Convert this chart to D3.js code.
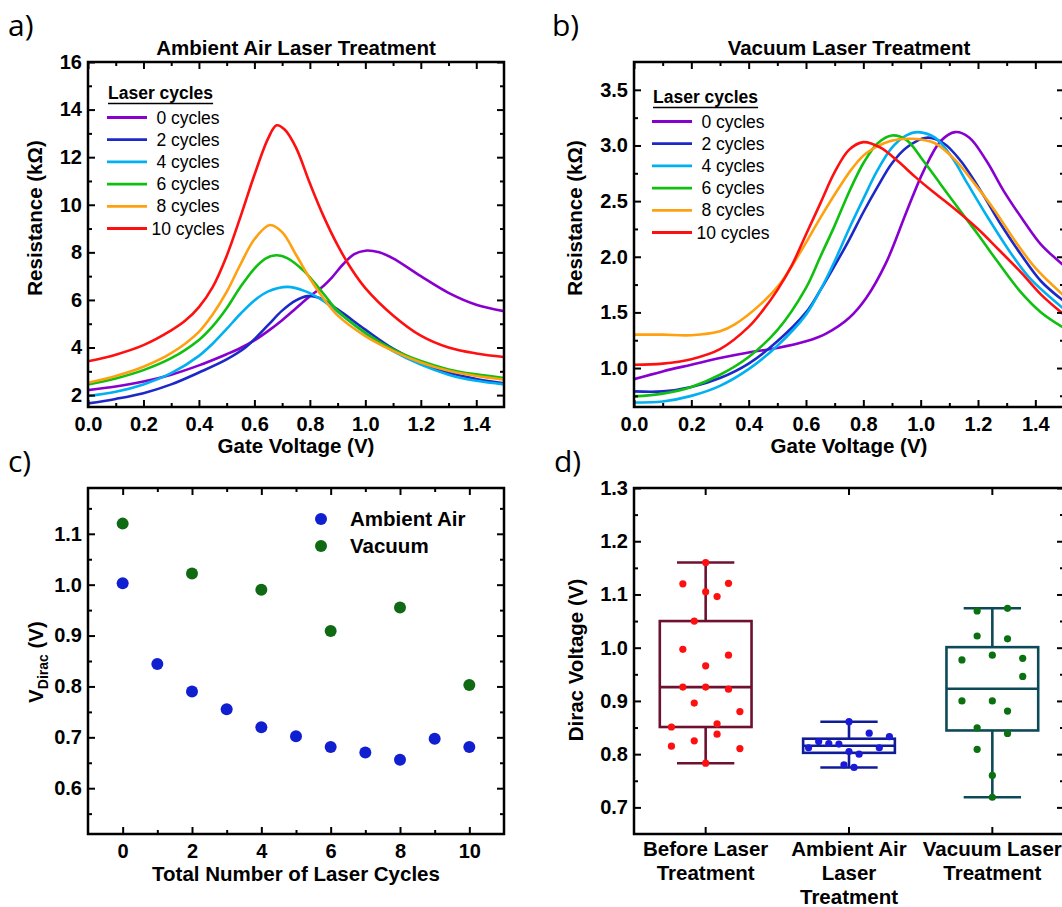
<!DOCTYPE html>
<html>
<head>
<meta charset="utf-8">
<script src="https://cdn.jsdelivr.net/npm/d3@7"></script>
<style>
body { margin: 0; background: #fff; }
svg { display: block; font-family: "Liberation Sans", Arial, sans-serif; }
</style>
</head>
<body>
<svg id="fig" width="1062" height="907"></svg>
<script>
// ---- data ----
const cycleLabels = ['0 cycles', '2 cycles', '4 cycles', '6 cycles', '8 cycles', '10 cycles']

// a) ambient air, [gate voltage V, resistance kOhm]
const air0 = [[0,2.21],[0.1,2.36],[0.2,2.57],[0.3,2.86],[0.4,3.25],[0.5,3.72],[0.55,3.98],[0.6,4.3],[0.65,4.7],[0.7,5.15],[0.75,5.65],[0.8,6.15],[0.85,6.6],[0.88,6.95],[0.92,7.5],[0.96,7.92],[1.0,8.07],[1.05,8.0],[1.1,7.75],[1.2,7.0],[1.3,6.3],[1.4,5.8],[1.5,5.53]]
const air2 = [[0,1.65],[0.1,1.84],[0.2,2.08],[0.3,2.45],[0.4,2.95],[0.5,3.5],[0.57,4.02],[0.6,4.35],[0.65,4.95],[0.7,5.55],[0.75,5.98],[0.79,6.16],[0.83,6.1],[0.9,5.6],[1.0,4.75],[1.1,3.95],[1.2,3.35],[1.3,2.95],[1.4,2.68],[1.5,2.5]]
const air4 = [[0,1.96],[0.1,2.14],[0.2,2.45],[0.3,2.92],[0.4,3.65],[0.45,4.17],[0.5,4.78],[0.55,5.42],[0.6,5.98],[0.65,6.36],[0.72,6.55],[0.78,6.38],[0.85,5.95],[0.9,5.5],[1.0,4.6],[1.1,3.85],[1.2,3.28],[1.3,2.86],[1.4,2.6],[1.5,2.45]]
const air6 = [[0,2.45],[0.1,2.7],[0.2,3.05],[0.3,3.55],[0.4,4.32],[0.45,4.9],[0.5,5.65],[0.55,6.55],[0.6,7.32],[0.64,7.74],[0.68,7.88],[0.72,7.75],[0.78,7.2],[0.85,6.25],[0.9,5.55],[1.0,4.62],[1.1,3.92],[1.2,3.43],[1.3,3.08],[1.4,2.87],[1.5,2.72]]
const air8 = [[0,2.52],[0.1,2.8],[0.2,3.19],[0.3,3.76],[0.4,4.66],[0.45,5.4],[0.5,6.34],[0.55,7.5],[0.6,8.55],[0.656,9.15],[0.7,8.85],[0.75,7.9],[0.8,6.9],[0.85,6.05],[0.9,5.35],[1.0,4.48],[1.1,3.86],[1.2,3.37],[1.3,3.02],[1.4,2.8],[1.5,2.65]]
const air10 = [[0,3.42],[0.1,3.7],[0.2,4.1],[0.3,4.72],[0.35,5.12],[0.4,5.7],[0.45,6.55],[0.5,7.85],[0.55,9.5],[0.6,11.25],[0.65,12.8],[0.68,13.34],[0.71,13.15],[0.75,12.4],[0.8,10.9],[0.85,9.5],[0.9,8.3],[0.95,7.3],[1.0,6.5],[1.1,5.35],[1.2,4.5],[1.3,4.0],[1.4,3.75],[1.5,3.6]]

// b) vacuum, [gate voltage V, resistance kOhm]
const vac0 = [[0,0.9],[0.1,0.97],[0.2,1.03],[0.3,1.09],[0.4,1.14],[0.5,1.18],[0.6,1.24],[0.67,1.31],[0.75,1.45],[0.81,1.63],[0.88,1.95],[0.95,2.4],[1.01,2.77],[1.07,3.04],[1.12,3.12],[1.17,3.07],[1.23,2.86],[1.29,2.59],[1.36,2.32],[1.42,2.11],[1.5,1.92]]
const vac2 = [[0,0.79],[0.1,0.79],[0.2,0.83],[0.3,0.91],[0.4,1.04],[0.5,1.24],[0.6,1.5],[0.65,1.7],[0.7,1.92],[0.75,2.15],[0.8,2.4],[0.85,2.63],[0.9,2.84],[0.95,2.98],[1.02,3.07],[1.08,3.02],[1.14,2.86],[1.21,2.59],[1.28,2.29],[1.35,2.02],[1.42,1.78],[1.5,1.6]]
const vac4 = [[0,0.69],[0.1,0.7],[0.2,0.75],[0.3,0.84],[0.4,0.99],[0.5,1.2],[0.6,1.48],[0.65,1.7],[0.7,1.96],[0.75,2.25],[0.8,2.52],[0.85,2.78],[0.9,2.98],[0.95,3.09],[0.99,3.12],[1.05,3.07],[1.11,2.89],[1.165,2.65],[1.235,2.35],[1.31,2.05],[1.38,1.81],[1.5,1.53]]
const vac6 = [[0,0.745],[0.1,0.77],[0.2,0.83],[0.3,0.94],[0.4,1.1],[0.5,1.34],[0.6,1.72],[0.65,2.0],[0.7,2.28],[0.75,2.58],[0.8,2.84],[0.85,3.02],[0.9,3.09],[0.95,3.05],[1.01,2.86],[1.07,2.65],[1.13,2.44],[1.2,2.2],[1.27,1.95],[1.35,1.68],[1.42,1.5],[1.5,1.36]]
const vac8 = [[0,1.3],[0.1,1.3],[0.2,1.295],[0.3,1.33],[0.35,1.39],[0.44,1.57],[0.51,1.76],[0.58,2.04],[0.65,2.35],[0.71,2.6],[0.76,2.79],[0.81,2.93],[0.895,3.04],[0.97,3.06],[1.05,3.02],[1.12,2.87],[1.19,2.65],[1.26,2.41],[1.33,2.14],[1.4,1.9],[1.5,1.65]]
const vac10 = [[0,1.03],[0.1,1.04],[0.2,1.08],[0.3,1.17],[0.4,1.37],[0.45,1.52],[0.5,1.7],[0.55,1.92],[0.6,2.2],[0.65,2.48],[0.7,2.76],[0.75,2.96],[0.8,3.03],[0.86,2.98],[0.92,2.86],[0.98,2.72],[1.04,2.59],[1.1,2.47],[1.2,2.25],[1.27,2.07],[1.35,1.86],[1.42,1.66],[1.5,1.48]]

// c) Dirac voltage vs number of cycles
const airCycles = [0, 1, 2, 3, 4, 5, 6, 7, 8, 9, 10]
const airDirac = [1.003, 0.844, 0.79, 0.755, 0.72, 0.702, 0.681, 0.67, 0.656, 0.697, 0.681]
const vacCycles = [0, 2, 4, 6, 8, 10]
const vacDirac = [1.12, 1.022, 0.99, 0.909, 0.955, 0.803]

// d) box plots
const groups = ['Before Laser Treatment', 'Ambient Air Laser Treatment', 'Vacuum Laser Treatment']
const groupLines = [['Before Laser', 'Treatment'], ['Ambient Air', 'Laser', 'Treatment'], ['Vacuum Laser', 'Treatment']]
const beforeV = [1.16, 1.12, 1.121, 1.105, 1.096, 1.05, 0.997, 0.986, 0.966, 0.926, 0.926, 0.922, 0.896, 0.88, 0.851, 0.857, 0.8375, 0.825, 0.815, 0.8105, 0.783]
const beforeSlot = [0, -2, 2, 0, 1, -1, -2, 2, 0, -2, 0, 2, -1, 3, -3, 1, 1, -1, -3, 3, 0]
const airV = [0.861, 0.8395, 0.833, 0.8237, 0.82, 0.819, 0.812, 0.812, 0.805, 0.8, 0.78, 0.775]
const airSlot = [0, 2, 4, -3, -2, -1, -4, 3, 0, 1, -0.5, 0.5]
const vacV = [1.069, 1.074, 1.022, 1.0166, 0.986, 0.977, 0.98, 0.946, 0.9, 0.9, 0.881, 0.8495, 0.839, 0.809, 0.76, 0.719]
const vacSlot = [-1, 1, -1, 1, 0, -2, 2, 2, -2, 0, 1, -1, 1, -1, 0, 0]
const boxLow = [0.783, 0.775, 0.719]
const boxQ1 = [0.851, 0.8025, 0.8445]
const boxMed = [0.926, 0.8157, 0.923]
const boxQ3 = [1.05, 0.829, 1.001]
const boxHigh = [1.16, 0.861, 1.074]

// ---- drawing ----
const lineColors = ['#8800d0', '#1c28c8', '#00b0f0', '#10c010', '#ffa010', '#ff1010']
const svg = d3.select('#fig')
svg.append('rect').attr('width', 1062).attr('height', 907).attr('fill', '#fff')

function axes (g, x, y, w, h, c) {
    const put = (axis, tr, vals, size, fmt, pad) => {
        const a = g.append('g').attr('transform', tr)
            .call(axis.tickValues(vals).tickSize(size).tickSizeOuter(0).tickPadding(pad || 0).tickFormat(fmt || (() => '')))
        a.select('.domain').remove()
        a.attr('font-family', null).attr('font-size', 20).attr('font-weight', 'bold')
        a.selectAll('line').attr('stroke-width', 2)
        return a
    }
    put(d3.axisBottom(x), `translate(0,${h})`, c.xMajor, -7, c.xFmt, 10)
    put(d3.axisTop(x), 'translate(0,0)', c.xMajor, -7)
    if (c.xMinor) {
        put(d3.axisBottom(x), `translate(0,${h})`, c.xMinor, -4)
        put(d3.axisTop(x), 'translate(0,0)', c.xMinor, -4)
    }
    put(d3.axisLeft(y), 'translate(0,0)', c.yMajor, -7, c.yFmt, 6)
    put(d3.axisLeft(y), 'translate(0,0)', c.yMinor, -4)
    put(d3.axisRight(y), `translate(${w},0)`, c.yMajor, -7)
    put(d3.axisRight(y), `translate(${w},0)`, c.yMinor, -4)
    g.append('rect').attr('width', w).attr('height', h)
        .attr('fill', 'none').attr('stroke', '#000').attr('stroke-width', 2.5)
}

function text (parent, x, y, str, size, weight, anchor) {
    return parent.append('text').attr('x', x).attr('y', y)
        .attr('font-size', size).attr('font-weight', weight || 'bold')
        .attr('text-anchor', anchor || 'middle').text(str)
}

function yLabel (x, y, str) {
    return svg.append('text').attr('transform', `translate(${x},${y}) rotate(-90)`)
        .attr('font-size', 20.5).attr('font-weight', 'bold').attr('text-anchor', 'middle').text(str)
}

function panelTag (x, y, str) {
    svg.append('text').attr('x', x).attr('y', y).attr('font-family', '"Open Sans", "Noto Sans", sans-serif')
        .attr('font-size', 30).text(str)
}

function curvePanel (left, top, w, h, yDomain, yMajor, yMinor, yFmt, series, title, legendPos) {
    const g = svg.append('g').attr('transform', `translate(${left},${top})`)
    const x = d3.scaleLinear().domain([0, 1.5]).range([0, w])
    const y = d3.scaleLinear().domain(yDomain).range([h, 0])
    const line = d3.line().x(d => x(d[0])).y(d => y(d[1])).curve(d3.curveCatmullRom.alpha(0.5))
    g.append('defs').append('clipPath').attr('id', 'clip' + left)
        .append('rect').attr('width', w).attr('height', h)
    g.append('g').attr('clip-path', `url(#clip${left})`)
        .selectAll('path').data(series).enter().append('path')
        .attr('d', line).attr('fill', 'none')
        .attr('stroke', (d, i) => lineColors[i]).attr('stroke-width', 2.6)
    axes(g, x, y, w, h, {
        xMajor: d3.range(0, 1.41, 0.2), xMinor: d3.range(0.1, 1.45, 0.2), xFmt: d3.format('.1f'),
        yMajor: yMajor, yMinor: yMinor, yFmt: yFmt
    })
    // legend
    const lg = g.append('g').attr('transform', `translate(${legendPos[0]},${legendPos[1]})`)
    const t = text(lg, 0, 0, 'Laser cycles', 17.5, 'bold', 'start')
    const tw = t.node().getComputedTextLength()
    lg.append('line').attr('x1', 0).attr('x2', tw).attr('y1', 4.5).attr('y2', 4.5)
        .attr('stroke', '#000').attr('stroke-width', 1.5)
    cycleLabels.forEach((lab, i) => {
        const yy = 18.5 + i * 22.2
        lg.append('line').attr('x1', -1).attr('x2', 39).attr('y1', yy).attr('y2', yy)
            .attr('stroke', lineColors[i]).attr('stroke-width', 2.8)
        text(lg, 80, yy, lab, 17.5, 'normal').attr('dy', '0.35em')
    })
    text(g, w / 2, -7, title, 20.5)
    text(g, w / 2, h + 46, 'Gate Voltage (V)', 20.5)
}

// panel a
curvePanel(88, 62, 416, 345, [1.5, 16], d3.range(2, 16.1, 2), d3.range(3, 15.1, 2), d3.format('d'),
    [air0, air2, air4, air6, air8, air10], 'Ambient Air Laser Treatment', [20, 37])
yLabel(42, 218, 'Resistance (kΩ)')
panelTag(8, 36, 'a)')

// panel b
curvePanel(634, 62, 430, 345, [0.65, 3.75], d3.range(1, 3.51, 0.5), d3.range(0.75, 3.5, 0.5), d3.format('.1f'),
    [vac0, vac2, vac4, vac6, vac8, vac10], 'Vacuum Laser Treatment', [19, 41])
yLabel(582, 218, 'Resistance (kΩ)')
panelTag(552, 36, 'b)')

// panel c
{
    const w = 416, h = 346
    const g = svg.append('g').attr('transform', 'translate(88,488)')
    const x = d3.scaleLinear().domain([-1, 11]).range([0, w])
    const y = d3.scaleLinear().domain([0.51, 1.19]).range([h, 0])
    axes(g, x, y, w, h, {
        xMajor: d3.range(0, 10.1, 2), xMinor: d3.range(1, 9.1, 2), xFmt: d3.format('d'),
        yMajor: d3.range(0.6, 1.11, 0.1), yMinor: d3.range(0.55, 1.16, 0.1), yFmt: d3.format('.1f')
    })
    g.selectAll('.air').data(airCycles).enter().append('circle')
        .attr('cx', d => x(d)).attr('cy', (d, i) => y(airDirac[i])).attr('r', 6).attr('fill', '#1020d0')
    g.selectAll('.vac').data(vacCycles).enter().append('circle')
        .attr('cx', d => x(d)).attr('cy', (d, i) => y(vacDirac[i])).attr('r', 6).attr('fill', '#106a14')
    const lg = g.append('g').attr('transform', 'translate(233,31)')
    lg.append('circle').attr('r', 6).attr('fill', '#1020d0')
    lg.append('circle').attr('cy', 27).attr('r', 6).attr('fill', '#106a14')
    text(lg, 29, 0, 'Ambient Air', 20.5, 'bold', 'start').attr('dy', '0.35em')
    text(lg, 29, 27, 'Vacuum', 20.5, 'bold', 'start').attr('dy', '0.35em')
    text(g, w / 2, h + 47, 'Total Number of Laser Cycles', 20.5)
    const vl = svg.append('text').attr('transform', 'translate(43,662) rotate(-90)')
        .attr('font-size', 20.5).attr('font-weight', 'bold').attr('text-anchor', 'middle')
    vl.append('tspan').text('V')
    vl.append('tspan').attr('font-size', 14).attr('dy', 5).text('Dirac')
    vl.append('tspan').attr('dy', -5).text(' (V)')
    panelTag(8, 472, 'c)')
}

// panel d
{
    const w = 430, h = 346
    const g = svg.append('g').attr('transform', 'translate(634,488)')
    const x = d3.scaleBand().domain(groups).range([0, w])
    const y = d3.scaleLinear().domain([0.65, 1.3]).range([h, 0])
    const bw = x.bandwidth()
    axes(g, x, y, w, h, {
        xMajor: groups, xFmt: () => '',
        yMajor: d3.range(0.7, 1.31, 0.1), yMinor: d3.range(0.75, 1.26, 0.1), yFmt: d3.format('.1f')
    })
    const boxColors = ['#6e1030', '#101c96', '#0d4a58']
    const dotColors = ['#ff1010', '#1a1ad8', '#0a7010']
    const stepFrac = [0.0796, 0.0705, 0.106]
    groups.forEach((grp, i) => {
        const cx = x(grp) + bw / 2
        const b = g.append('g').attr('stroke', boxColors[i]).attr('stroke-width', 2.6).attr('fill', 'none')
        b.append('line').attr('x1', cx).attr('x2', cx).attr('y1', y(boxQ3[i])).attr('y2', y(boxHigh[i]))
        b.append('line').attr('x1', cx).attr('x2', cx).attr('y1', y(boxQ1[i])).attr('y2', y(boxLow[i]))
        b.append('line').attr('x1', cx - 0.2 * bw).attr('x2', cx + 0.2 * bw).attr('y1', y(boxHigh[i])).attr('y2', y(boxHigh[i]))
        b.append('line').attr('x1', cx - 0.2 * bw).attr('x2', cx + 0.2 * bw).attr('y1', y(boxLow[i])).attr('y2', y(boxLow[i]))
        b.append('rect').attr('x', cx - 0.32 * bw).attr('width', 0.64 * bw)
            .attr('y', y(boxQ3[i])).attr('height', y(boxQ1[i]) - y(boxQ3[i]))
        b.append('line').attr('x1', cx - 0.32 * bw).attr('x2', cx + 0.32 * bw).attr('y1', y(boxMed[i])).attr('y2', y(boxMed[i]))
        const vals = [beforeV, airV, vacV][i]
        const slots = [beforeSlot, airSlot, vacSlot][i]
        g.append('g').selectAll('circle').data(vals).enter().append('circle')
            .attr('cx', (d, j) => cx + slots[j] * stepFrac[i] * bw).attr('cy', d => y(d))
            .attr('r', 3.6).attr('fill', dotColors[i])
        groupLines[i].forEach((ln, k) => text(g, cx, 368 + k * 24, ln, 20.5))
    })
    yLabel(583, 660, 'Dirac Voltage (V)')
    panelTag(554, 472, 'd)')
}
</script>
</body>
</html>
